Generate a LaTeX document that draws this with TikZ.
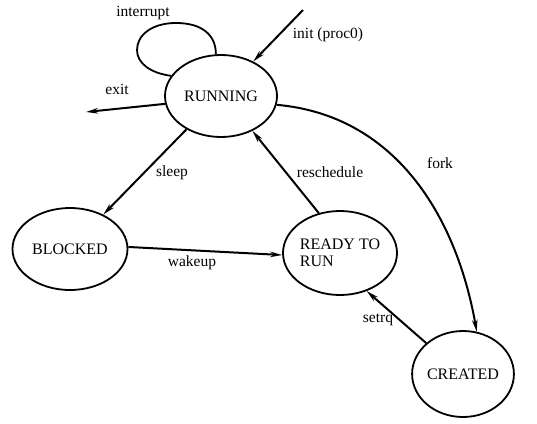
\documentclass[tikz,border=0pt]{standalone}
\usepackage{fontspec}
\setmainfont{Liberation Serif}
\usetikzlibrary{arrows.meta,shapes.geometric}

\begin{document}
\begin{tikzpicture}[x=1pt,y=-1pt,
    state/.style={draw, ellipse, line width=1.8pt, inner sep=0pt,
        font=\fontsize{16}{17}\selectfont},
    trans/.style={line width=2pt, -{Stealth[length=12pt,width=5.5pt]}},
    lbl/.style={font=\fontsize{15.5}{16}\selectfont}]
    \useasboundingbox (0,0) rectangle (537,423);

    % States
    \node[state, minimum width=112pt, minimum height=82pt] (running) at (221,96) {RUNNING};
    \node[state, minimum width=115pt, minimum height=82pt] (blocked) at (70,249) {BLOCKED};
    \node[state, minimum width=114pt, minimum height=84pt, align=left] (ready) at (340,253) {READY TO\\RUN};
    \node[state, minimum width=100pt, minimum height=86pt] (created) at (463,374) {CREATED};

    % Free ends
    \coordinate (initstart) at (303,10);
    \coordinate (exitend) at (86,112);

    % Interrupt loop
    \draw[line width=1.8pt] (running.97) .. controls (216,35) and (202,23) .. (176,23)
        .. controls (152,23) and (137,35) .. (137,50)
        .. controls (137,63) and (150,73) .. (running.158);
    \node[lbl] (interrupt) at (143,13) {interrupt};

    % Init and exit
    \draw[trans] (initstart) -- (running.47);
    \node[lbl] (init) at (328,35) {init (proc0)};
    \draw[trans] (running.188) -- (exitend);
    \node[lbl] (exit) at (117,89) {exit};

    % Transitions
    \draw[trans] (running.224) -- (blocked.46);
    \node[lbl] (sleep) at (172,173) {sleep};
    \draw[trans] (ready.118) -- (running.-48);
    \node[lbl] (reschedule) at (330,172) {reschedule};
    \draw[trans] (blocked.2) -- (ready.182);
    \node[lbl] (wakeup) at (192,263) {wakeup};
    \draw[trans] (running.-9) to[out=-5,in=100] (created.72);
    \node[lbl] (fork) at (440,163) {fork};
    \draw[trans] (created.140) -- (ready.-55);
    \node[lbl] (setrq) at (378,320) {setrq};

\end{tikzpicture}
\end{document}
